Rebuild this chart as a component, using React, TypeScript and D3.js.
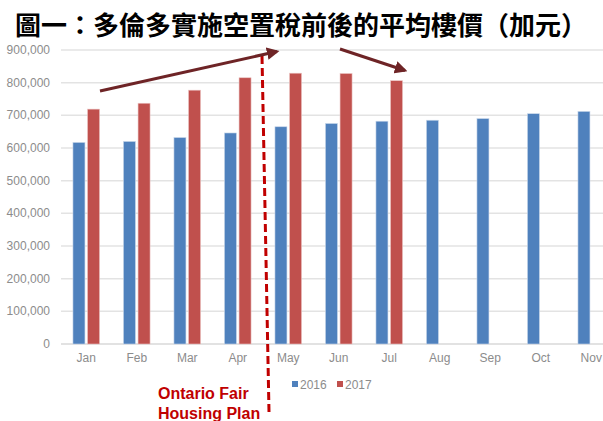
import React from "react";
import * as d3 from "d3";

const months = ["Jan", "Feb", "Mar", "Apr", "May", "Jun", "Jul", "Aug", "Sep", "Oct", "Nov"];
const series2016 = [617000, 620000, 632000, 646000, 665000, 675000, 682000, 685000, 690000, 705000, 712000];
const series2017 = [719000, 737000, 777000, 815000, 829000, 828000, 806000];
const yTicks = [0, 100000, 200000, 300000, 400000, 500000, 600000, 700000, 800000, 900000];
const seriesNames = ["2016", "2017"];
const titleText = "圖一：多倫多實施空置稅前後的平均樓價（加元）";

const W = 603;
const H = 421;
const left = 61;
const step = 50.5;

export default function App() {
  const x = d3.scaleBand<string>().domain(months).range([left, left + step * months.length]).paddingInner(0).paddingOuter(0);
  const y = d3.scaleLinear().domain([0, 900000]).range([344, 50]);
  const fmt = d3.format(",");
  const barW = 12;
  const gap = 2.6;
  const blue = "#4f81bd";
  const red = "#c0504d";
  const gray = "#8c8c8c";
  const arrowColor = "#6e2426";

  return (
    <svg width={W} height={H} style={{ position: "absolute", left: 0, top: 0, background: "#fff" }}>
      <defs>
        <marker id="ah" viewBox="0 0 10 10" refX="8" refY="5" markerWidth="4.2" markerHeight="4.2" orient="auto">
          <path d="M0,0 L10,5 L0,10 z" fill={arrowColor} />
        </marker>
      </defs>
      <rect x={0} y={0} width={W} height={H} fill="#fff" />
      <text x={301} y={35} textAnchor="middle" fontFamily="'Noto Sans CJK TC'" fontWeight="bold" fontSize={26} fill="#000">
        {titleText}
      </text>
      {yTicks.map((t) => (
        <g key={t}>
          {t > 0 && <line x1={left} x2={W} y1={y(t)} y2={y(t)} stroke="#e3e3e3" strokeWidth={1.5} />}
          <text x={50} y={y(t) + 4} textAnchor="end" fontFamily="'Liberation Sans', Arial" fontSize={12} fill={gray}>
            {fmt(t)}
          </text>
        </g>
      ))}
      <line x1={left} x2={W} y1={y(0)} y2={y(0)} stroke="#d9d9d9" strokeWidth={1.5} />
      {months.map((m, i) => {
        const c = (x(m) as number) + x.bandwidth() / 2;
        return (
          <g key={m}>
            <rect x={c - gap / 2 - barW} y={y(series2016[i])} width={barW} height={y(0) - y(series2016[i])} fill={blue} stroke="#c9d7ea" strokeWidth={0.6} />
            {series2017[i] !== undefined && (
              <rect x={c + gap / 2} y={y(series2017[i])} width={barW} height={y(0) - y(series2017[i])} fill={red} stroke="#ebc3c2" strokeWidth={0.6} />
            )}
            <text x={c} y={362} textAnchor="middle" fontFamily="'Liberation Sans', Arial" fontSize={12} fill={gray}>
              {m}
            </text>
          </g>
        );
      })}
      {/* legend */}
      <rect x={292} y={381} width={6} height={6} fill={blue} />
      <text x={300} y={389} fontFamily="'Liberation Sans', Arial" fontSize={12} fill={gray}>{seriesNames[0]}</text>
      <rect x={337} y={381} width={6} height={6} fill={red} />
      <text x={345} y={389} fontFamily="'Liberation Sans', Arial" fontSize={12} fill={gray}>{seriesNames[1]}</text>
      {/* policy line */}
      <line x1={262} y1={56} x2={269} y2={412} stroke="#c00000" strokeWidth={3} strokeDasharray="8,4" />
      <text x={158} y={399} fontFamily="'Liberation Sans', Arial" fontWeight="bold" fontSize={16} fill="#c00000">Ontario Fair</text>
      <text x={158} y={419} fontFamily="'Liberation Sans', Arial" fontWeight="bold" fontSize={16} fill="#c00000">Housing Plan</text>
      {/* arrows */}
      <line x1={100} y1={91} x2={277} y2={51.5} stroke={arrowColor} strokeWidth={3} markerEnd="url(#ah)" />
      <line x1={340} y1={49} x2={405} y2={70.5} stroke={arrowColor} strokeWidth={3} markerEnd="url(#ah)" />
    </svg>
  );
}
